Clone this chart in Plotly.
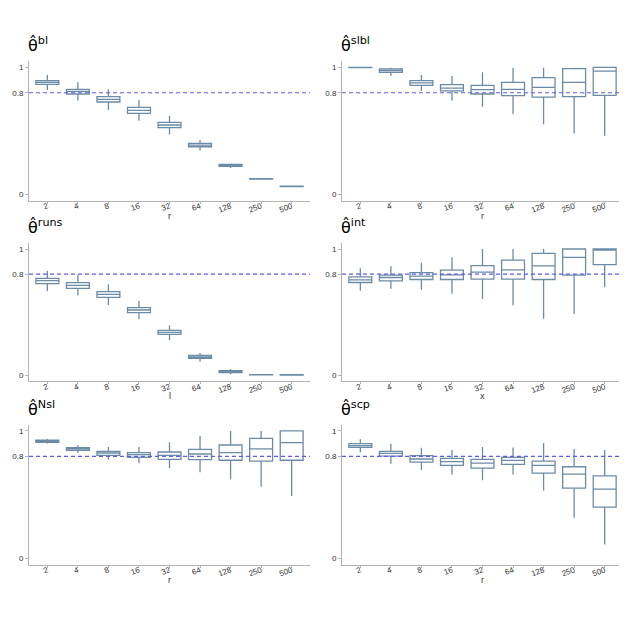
import plotly.graph_objects as go
from plotly.subplots import make_subplots

# -----------------------------------
# Data
# -----------------------------------

categories = ["2", "4", "8", "16", "32", "64", "128", "250", "500"]

# each estimator: lower whisker, q1, median, q3, upper whisker
bl_lo = [0.822, 0.738, 0.664, 0.580, 0.472, 0.344, 0.207, 0.118, 0.060]
bl_q1 = [0.866, 0.790, 0.727, 0.638, 0.525, 0.375, 0.220, 0.120, 0.062]
bl_med = [0.882, 0.811, 0.748, 0.661, 0.546, 0.388, 0.228, 0.121, 0.063]
bl_q3 = [0.895, 0.827, 0.769, 0.685, 0.567, 0.402, 0.236, 0.123, 0.065]
bl_hi = [0.940, 0.882, 0.827, 0.743, 0.617, 0.428, 0.241, 0.124, 0.066]

slbl_lo = [0.997, 0.932, 0.814, 0.738, 0.690, 0.633, 0.551, 0.480, 0.462]
slbl_q1 = [0.998, 0.961, 0.858, 0.814, 0.790, 0.777, 0.766, 0.769, 0.780]
slbl_med = [0.999, 0.974, 0.877, 0.837, 0.824, 0.827, 0.843, 0.882, 0.971]
slbl_q3 = [1.000, 0.987, 0.895, 0.864, 0.858, 0.882, 0.919, 0.990, 1.000]
slbl_hi = [1.000, 0.997, 0.940, 0.932, 0.961, 0.997, 0.997, 0.997, 1.000]

runs_lo = [0.667, 0.630, 0.556, 0.442, 0.278, 0.106, 0.005, 0.000, 0.000]
runs_q1 = [0.725, 0.688, 0.616, 0.495, 0.323, 0.132, 0.019, 0.001, 0.000]
runs_med = [0.749, 0.712, 0.640, 0.516, 0.339, 0.143, 0.029, 0.002, 0.001]
runs_q3 = [0.767, 0.733, 0.661, 0.534, 0.354, 0.156, 0.034, 0.003, 0.002]
runs_hi = [0.828, 0.794, 0.720, 0.587, 0.392, 0.175, 0.048, 0.004, 0.003]

int_lo = [0.668, 0.684, 0.676, 0.645, 0.603, 0.553, 0.447, 0.484, 0.697]
int_q1 = [0.734, 0.747, 0.758, 0.758, 0.761, 0.761, 0.758, 0.792, 0.876]
int_med = [0.755, 0.774, 0.784, 0.795, 0.816, 0.834, 0.866, 0.934, 1.000]
int_q3 = [0.779, 0.792, 0.813, 0.832, 0.868, 0.911, 0.966, 1.000, 1.000]
int_hi = [0.847, 0.863, 0.892, 0.934, 1.000, 1.000, 1.000, 1.000, 1.000]

nsl_lo = [0.901, 0.827, 0.775, 0.746, 0.709, 0.675, 0.618, 0.563, 0.490]
nsl_q1 = [0.911, 0.848, 0.809, 0.793, 0.777, 0.775, 0.770, 0.764, 0.770]
nsl_med = [0.919, 0.859, 0.827, 0.814, 0.809, 0.819, 0.830, 0.859, 0.908]
nsl_q3 = [0.927, 0.869, 0.840, 0.830, 0.835, 0.856, 0.890, 0.942, 1.000]
nsl_hi = [0.937, 0.887, 0.874, 0.874, 0.911, 0.961, 1.000, 1.000, 1.000]

scp_lo = [0.832, 0.743, 0.693, 0.659, 0.614, 0.659, 0.533, 0.318, 0.108]
scp_q1 = [0.871, 0.803, 0.756, 0.730, 0.709, 0.738, 0.669, 0.551, 0.402]
scp_med = [0.885, 0.824, 0.780, 0.759, 0.748, 0.769, 0.730, 0.661, 0.543]
scp_q3 = [0.900, 0.840, 0.806, 0.785, 0.777, 0.793, 0.764, 0.719, 0.648]
scp_hi = [0.934, 0.900, 0.869, 0.850, 0.874, 0.871, 0.906, 0.858, 0.850]

panels = [
    ("bl", "r", bl_lo, bl_q1, bl_med, bl_q3, bl_hi),
    ("slbl", "r", slbl_lo, slbl_q1, slbl_med, slbl_q3, slbl_hi),
    ("runs", "l", runs_lo, runs_q1, runs_med, runs_q3, runs_hi),
    ("int", "x", int_lo, int_q1, int_med, int_q3, int_hi),
    ("Nsl", "r", nsl_lo, nsl_q1, nsl_med, nsl_q3, nsl_hi),
    ("scp", "r", scp_lo, scp_q1, scp_med, scp_q3, scp_hi),
]

# -----------------------------------
# Layout helpers (paper coordinates)
# -----------------------------------

W = 627
H = 627

# the page puts the plot 8px in from the top-left corner
OFF = 8

col_px = [(29, 310), (342, 623)]
row_px = [(61, 200.7), (242.7, 381.3), (424.6, 564.7)]

col_domains = [[(a - OFF) / W, (b - OFF) / W] for a, b in col_px]
row_domains = [[1 - (b - OFF) / H, 1 - (t - OFF) / H] for t, b in row_px]

box_line = "#6c8ba6"
axis_grey = "#b3b3b3"
text_col = "#333333"

fig = make_subplots(rows=3, cols=2)

annotations = []

for i, (name, xlab, lo, q1, med, q3, hi) in enumerate(panels):

    row = i // 2 + 1
    col = i % 2 + 1

    fig.add_trace(

        go.Box(

            x=categories,

            q1=q1,

            median=med,

            q3=q3,

            lowerfence=lo,

            upperfence=hi,

            width=0.75,

            whiskerwidth=0,

            fillcolor="rgba(255,255,255,1)",

            line=dict(color=box_line, width=1.3),

            boxpoints=False,

            hoverinfo="skip",

            showlegend=False

        ),

        row=row,

        col=col

    )

    fig.add_hline(

        y=0.8,

        line=dict(color="#5c5cf0", width=1.2, dash="4px,3px"),

        row=row,

        col=col

    )

    xd = col_domains[col - 1]
    yd = row_domains[row - 1]

    fig.update_xaxes(

        domain=xd,

        range=[-0.6, 8.6],

        tickangle=-20,

        ticks="outside",

        ticklen=2,

        ticklabelstandoff=-5,

        tickcolor=axis_grey,

        showline=True,

        linecolor=axis_grey,

        showgrid=False,

        zeroline=False,

        tickfont=dict(size=8, color=text_col),

        row=row,

        col=col

    )

    fig.update_yaxes(

        domain=yd,

        range=[-0.05, 1.05],

        tickvals=[0, 0.8, 1],

        ticktext=["0", "0.8", "1"],

        ticks="outside",

        ticklen=3,

        tickcolor=axis_grey,

        showline=True,

        linecolor=axis_grey,

        showgrid=False,

        zeroline=False,

        tickfont=dict(size=8, color=text_col),

        row=row,

        col=col

    )

    # panel title: theta hat with superscript
    annotations.append(

        dict(

            x=xd[0] - 0.004,

            y=yd[1] + 4 / H,

            xref="paper",

            yref="paper",

            xanchor="left",

            yanchor="bottom",

            showarrow=False,

            text="θ̂<sup>" + name + "</sup>",

            font=dict(size=16, color="black", family="DejaVu Sans")

        )

    )

    # x axis label
    annotations.append(

        dict(

            x=(xd[0] + xd[1]) / 2,

            y=yd[0] - 15 / H,

            xref="paper",

            yref="paper",

            xanchor="center",

            yanchor="middle",

            showarrow=False,

            text=xlab,

            font=dict(size=9, color=text_col)

        )

    )

fig.update_layout(

    width=W,

    height=H,

    margin=dict(l=0, r=0, t=0, b=0),

    paper_bgcolor="white",

    plot_bgcolor="white",

    font=dict(family="Liberation Sans", color=text_col),

    annotations=list(fig.layout.annotations) + annotations

)

fig.write_html("out.html")
